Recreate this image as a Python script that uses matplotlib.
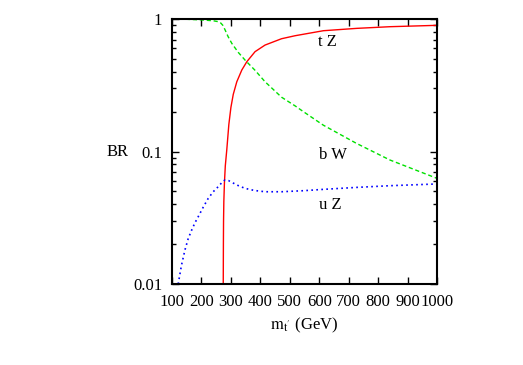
import numpy as np
import matplotlib
matplotlib.use("Agg")
import matplotlib.pyplot as plt
from matplotlib.ticker import LogLocator, NullFormatter, FixedLocator

plt.rcParams["font.family"] = "Liberation Serif"
plt.rcParams["mathtext.fontset"] = "stix"

# branching ratios (m in GeV)
m_tz = [274, 274.5, 275, 276, 278, 281, 286, 293, 300, 308, 320, 337, 354, 382, 416, 472, 518, 614, 727, 840, 1000]
br_tz = [0.01, 0.02, 0.03, 0.042, 0.058, 0.078, 0.103, 0.16, 0.215, 0.27, 0.336, 0.412, 0.476, 0.567, 0.636, 0.71, 0.748, 0.816, 0.85, 0.875, 0.896]

m_bw = [100, 150, 200, 240, 257, 265, 272, 280, 290, 303, 325, 348, 382, 416, 472, 518, 546, 614, 727, 840, 1000]
br_bw = [1.0, 0.995, 0.985, 0.97, 0.955, 0.935, 0.9, 0.83, 0.74, 0.655, 0.56, 0.49, 0.41, 0.336, 0.257, 0.221, 0.2, 0.158, 0.115, 0.0863, 0.0627]

m_uz = [121, 132, 144, 155, 167, 178, 189, 206, 223, 240, 257, 270, 280, 292, 303, 325, 348, 380, 416, 472, 546, 614, 727, 840, 1000]
br_uz = [0.01, 0.0138, 0.0181, 0.022, 0.0256, 0.029, 0.0322, 0.038, 0.0443, 0.0497, 0.0543, 0.0585, 0.061, 0.0603, 0.0585, 0.0553, 0.0527, 0.0508, 0.0497, 0.0497, 0.0506, 0.0518, 0.0536, 0.0552, 0.0569]

labels = ["t Z", "b W", "u Z"]
label_pos = [(596, 0.67), (600, 0.094), (600, 0.0395)]

fig = plt.figure(figsize=(5.23, 3.65), dpi=100)
ax = fig.add_axes([0.3289, 0.2219, 0.8356 - 0.3289, 0.9479 - 0.2219])

ax.plot(m_tz, br_tz, color="#ff0000", lw=1.0)
ax.plot(m_bw, br_bw, color="#00e000", lw=1.0, ls=(0, (3, 2)))
ax.plot(m_uz, br_uz, color="#0000ff", lw=1.2, ls=(0, (1, 2)))

ax.set_yscale("log")
ax.set_xlim(100, 1000)
ax.set_ylim(0.01, 1)

ax.xaxis.set_major_locator(FixedLocator(np.arange(100, 1001, 100)))
ax.set_yticks([0.01, 0.1, 1])
ax.set_yticklabels(["0.01", "0.1", "1"])
ax.yaxis.set_minor_locator(LogLocator(base=10, subs=np.arange(2, 10)))
ax.yaxis.set_minor_formatter(NullFormatter())

ax.tick_params(which="both", direction="in", top=True, right=True, labelsize=12, width=1.0)
ax.tick_params(which="major", length=5, pad=7)
ax.tick_params(which="minor", length=3)
for s in ax.spines.values():
    s.set_linewidth(1.5)

for txt, (x, y) in zip(labels, label_pos):
    ax.text(x, y, txt, fontsize=12, va="center")

ax.set_xlabel(r"$\mathrm{m_{t^{\prime}}}$ (GeV)", fontsize=12, labelpad=4)
ax.text(-0.204, 0.5, "BR", transform=ax.transAxes, fontsize=12, ha="center", va="center")

fig.savefig("out.png", dpi=100)
